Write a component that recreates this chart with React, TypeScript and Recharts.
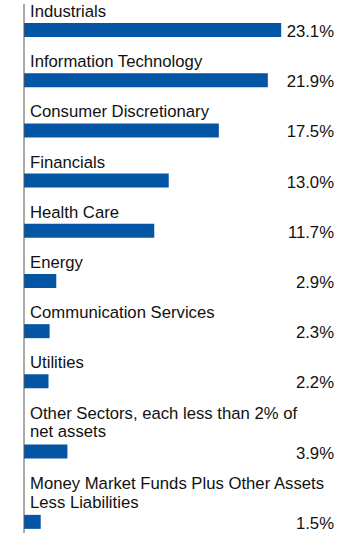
import React from 'react';
import { BarChart, Bar, XAxis, YAxis, LabelList } from 'recharts';

const sectors = [
  'Industrials',
  'Information Technology',
  'Consumer Discretionary',
  'Financials',
  'Health Care',
  'Energy',
  'Communication Services',
  'Utilities',
  'Other Sectors, each less than 2% of\nnet assets',
  'Money Market Funds Plus Other Assets\nLess Liabilities',
];
const weights = [23.1, 21.9, 17.5, 13.0, 11.7, 2.9, 2.3, 2.2, 3.9, 1.5];

const BAR_COLOR = '#0455a4';
const FONT = '"Liberation Sans", Arial, sans-serif';
const FONT_SIZE = 16.7;

// rows with wrapped labels take more room, so the slot value grows with extra lines
let extra = 0;
const data = sectors.map((name, i) => {
  const lines = name.split('\n');
  extra += lines.length - 1;
  return { name, lines, value: weights[i], slot: 50 * i + 20 * extra };
});

const CategoryLabel = (props: any) => {
  const { x, y, index } = props;
  const lines: string[] = data[index].lines;
  const firstBase = y - 6 - 20 * (lines.length - 1);
  return (
    <text x={x + 6} y={firstBase} fill="#111" fontSize={FONT_SIZE} fontFamily={FONT}>
      {lines.map((l, k) => (
        <tspan key={k} x={x + 6} y={firstBase + k * 18.8}>
          {l}
        </tspan>
      ))}
    </text>
  );
};

const ValueLabel = (props: any) => {
  const { y, height, value } = props;
  return (
    <text x={334} y={y + height} textAnchor="end" fill="#111" fontSize={FONT_SIZE} fontFamily={FONT}>
      {Number(value).toFixed(1)}%
    </text>
  );
};

export default function App() {
  return (
    <div style={{ position: 'absolute', left: 0, top: 0, background: '#fff' }}>
      <BarChart
        width={360}
        height={537}
        data={data}
        layout="vertical"
        margin={{ top: 4, right: 2, bottom: 4, left: 0 }}
      >
        <XAxis type="number" domain={[0, 30]} hide />
        <YAxis
          type="number"
          dataKey="slot"
          domain={[-26, 501]}
          width={24}
          tick={false}
          tickLine={false}
          axisLine={{ stroke: '#555', strokeWidth: 1 }}
        />
        <Bar dataKey="value" fill={BAR_COLOR} barSize={14} isAnimationActive={false}>
          <LabelList dataKey="name" content={CategoryLabel} />
          <LabelList dataKey="value" content={ValueLabel} />
        </Bar>
      </BarChart>
    </div>
  );
}
